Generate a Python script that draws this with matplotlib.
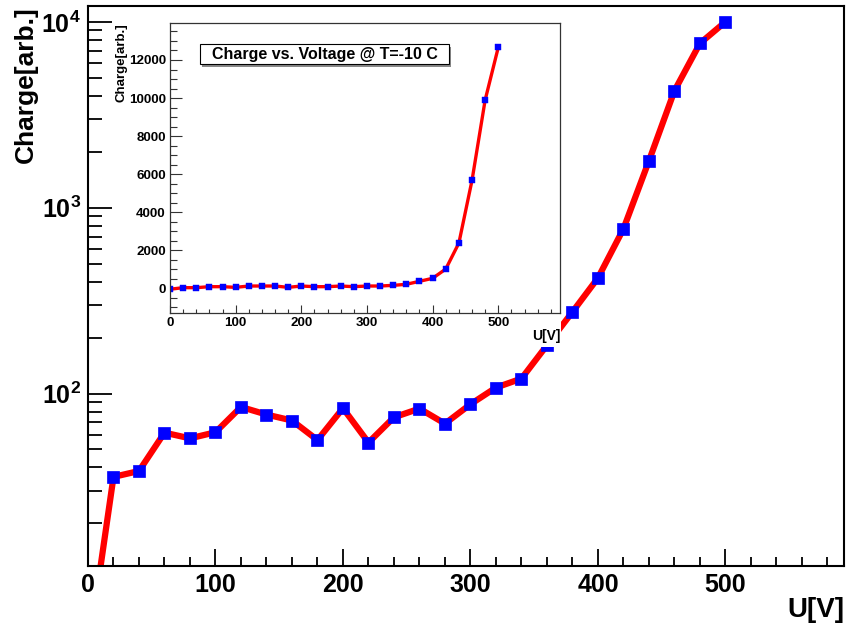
import math
import matplotlib
matplotlib.use("Agg")
import matplotlib.pyplot as plt
from matplotlib.ticker import MultipleLocator, LogLocator, FuncFormatter, NullFormatter
from matplotlib.patches import Rectangle

plt.rcParams['font.family'] = ['Liberation Sans', 'DejaVu Sans']
plt.rcParams['font.weight'] = 'bold'
plt.rcParams['mathtext.fontset'] = 'custom'
plt.rcParams['mathtext.rm'] = 'Liberation Sans:bold'
plt.rcParams['mathtext.bf'] = 'Liberation Sans:bold'
plt.rcParams['mathtext.default'] = 'bf'

# ---- data ----
voltage = [0, 20, 40, 60, 80, 100, 120, 140, 160, 180, 200, 220, 240,
           260, 280, 300, 320, 340, 360, 380, 400, 420, 440, 460, 480, 500]
charge_main = [4, 35.6, 38.3, 61.6, 57.4, 61.9, 84.7, 77.1, 71.6, 56.2, 83.4,
               54.5, 74.5, 83.0, 68.9, 87.6, 107.7, 120.4, 182, 275, 419, 770,
               1789, 4261, 7673, 10020]
charge_inset = [-50, 33, 33, 85, 85, 50, 120, 120, 120, 50, 120, 85, 85, 120,
                85, 120, 120, 155, 210, 368, 525, 1014, 2380, 5675, 9897, 12667]
inset_title = "Charge vs. Voltage @ T=-10 C"
x_label = "U[V]"
y_label = "Charge[arb.]"

W, H = 846, 625
fig = plt.figure(figsize=(W / 100, H / 100), dpi=100)

def fr(x0, y0, x1, y1):
    # pixel box (top-left origin) -> figure fraction [l, b, w, h]
    return [x0 / W, 1 - y1 / H, (x1 - x0) / W, (y1 - y0) / H]

# ---- main axes ----
ax = fig.add_axes(fr(88, 6, 844, 566), zorder=0)
ax.plot(voltage, charge_main, color='#ff0000', lw=4.5, marker='s', ms=9,
        mfc='#0000ff', mec='#0000ff', mew=0.5, solid_joinstyle='miter')
ax.set_yscale('log')
ax.set_xlim(0, 593)
ax.set_ylim(11.8, 12190)
ax.xaxis.set_major_locator(MultipleLocator(100))
ax.xaxis.set_minor_locator(MultipleLocator(20))
ax.yaxis.set_major_locator(LogLocator(base=10))
ax.yaxis.set_minor_locator(LogLocator(base=10, subs=range(2, 10)))
ax.yaxis.set_minor_formatter(NullFormatter())
ax.yaxis.set_major_formatter(FuncFormatter(lambda v, p: r'$\mathbf{10^{%d}}$' % round(math.log10(v))))
ax.tick_params(which='both', direction='in', top=False, right=False,
               labelsize=18, pad=5, width=1.3, color='black')
ax.xaxis.set_tick_params(which='major', length=12)
ax.xaxis.set_tick_params(which='minor', length=6.5)
ax.yaxis.set_tick_params(which='major', length=17)
ax.yaxis.set_tick_params(which='minor', length=10)
for s in ax.spines.values():
    s.set_linewidth(1.5)
for lab in ax.get_xticklabels() + ax.get_yticklabels():
    lab.set_fontweight('bold')
ax.set_xlabel(x_label, fontsize=20, fontweight='bold', loc='right')
ax.xaxis.set_label_coords(1.0, -0.055)
ax.xaxis.label.set_va('top')
ax.set_ylabel(y_label, fontsize=19, fontweight='bold', loc='top')
ax.yaxis.set_label_coords(-0.066, 1.0)

# ---- inset pad (white background) ----
pad = Rectangle((114 / W, 1 - 347 / H), (561 - 114) / W, (347 - 12) / H,
                transform=fig.transFigure, facecolor='white', edgecolor='none',
                zorder=1)
fig.patches.append(pad)

# ---- inset axes ----
ai = fig.add_axes(fr(170, 23.3, 560, 313.3), zorder=2)
ai.plot(voltage, charge_inset, color='#ff0000', lw=2.4, marker='s', ms=4.6,
        mfc='#0000ff', mec='#0000ff', mew=0.3)
ai.set_xlim(0, 594)
ai.set_ylim(-1314, 13929)
ai.xaxis.set_major_locator(MultipleLocator(100))
ai.xaxis.set_minor_locator(MultipleLocator(20))
ai.yaxis.set_major_locator(MultipleLocator(2000))
ai.yaxis.set_minor_locator(MultipleLocator(500))
ai.tick_params(which='both', direction='in', top=False, right=False,
               labelsize=9.6, pad=3, width=0.8, color='#333333')
ai.xaxis.set_tick_params(which='major', length=6)
ai.xaxis.set_tick_params(which='minor', length=3)
ai.yaxis.set_tick_params(which='major', length=8.6)
ai.yaxis.set_tick_params(which='minor', length=5)
for s in ai.spines.values():
    s.set_linewidth(0.9)
    s.set_color('#333333')
for lab in ai.get_xticklabels() + ai.get_yticklabels():
    lab.set_fontweight('bold')
ai.set_xlabel(x_label, fontsize=10, fontweight='bold', loc='right')
ai.xaxis.set_label_coords(1.0, -0.055)
ai.xaxis.label.set_va('top')
ai.set_ylabel(y_label, fontsize=9.5, fontweight='bold', loc='top')
ai.yaxis.set_label_coords(-0.11, 1.0)

# title box with shadow
bx0, bx1 = (200 - 170) / 390, (449 - 170) / 390
by0, by1 = (313.3 - 64.3) / 290, (313.3 - 44.3) / 290
ai.add_patch(Rectangle((bx0 + 0.006, by0 - 0.008), bx1 - bx0, by1 - by0,
                       transform=ai.transAxes, facecolor='#888888',
                       edgecolor='none', zorder=4))
ai.add_patch(Rectangle((bx0, by0), bx1 - bx0, by1 - by0, transform=ai.transAxes,
                       facecolor='white', edgecolor='black', lw=0.8, zorder=5))
ai.text((bx0 + bx1) / 2, (by0 + by1) / 2, inset_title, transform=ai.transAxes,
        ha='center', va='center', fontsize=11.5, fontweight='bold', zorder=6)

fig.savefig("out.png", dpi=100)
